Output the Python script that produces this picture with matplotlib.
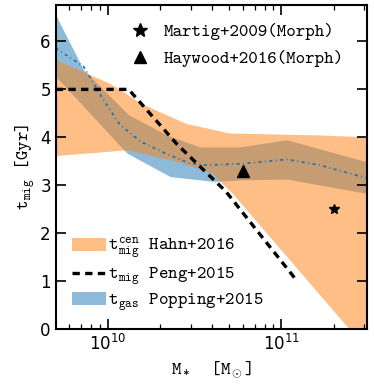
import numpy as np
import matplotlib
matplotlib.use("Agg")
from matplotlib import pyplot as plt
from matplotlib.lines import Line2D
from matplotlib.patches import Patch

plt.rcParams['mathtext.rm'] = 'cmtt10'
plt.rcParams['mathtext.it'] = 'cmtt10'
plt.rcParams['mathtext.tt'] = 'cmtt10'
plt.rcParams['mathtext.bf'] = 'cmtt10'

# Popping+2015 gas depletion time (log M*, Gyr)
pop_x = [9.70, 9.86, 10.12, 10.34, 10.53, 10.76, 11.03, 11.49]
pop_hi = [6.55, 5.41, 4.47, 4.05, 3.80, 3.80, 3.95, 3.49]
pop_lo_x = [9.70, 10.11, 10.36, 10.61, 10.76, 11.03, 11.49]
pop_lo = [5.27, 3.67, 3.18, 3.08, 3.11, 3.13, 2.83]
pop_med_x = [9.70, 9.86, 9.975, 10.07, 10.19, 10.34, 10.47, 10.57, 10.78, 11.03, 11.22, 11.49]
pop_med = [5.86, 5.48, 4.78, 4.26, 3.91, 3.65, 3.46, 3.42, 3.45, 3.54, 3.42, 3.15]

# Hahn+2016 central migration time
hahn_hi_x = [9.70, 10.01, 10.07, 10.19, 10.45, 10.70, 11.22, 11.49]
hahn_hi = [5.62, 5.13, 5.00, 4.71, 4.29, 4.09, 4.05, 4.01]
hahn_lo_x = [9.70, 10.11, 10.40, 10.60, 10.72, 11.39, 11.49]
hahn_lo = [3.62, 3.74, 3.50, 3.25, 2.82, 0.0, -0.42]

# Peng+2015
peng_x = [9.70, 10.12, 10.40, 10.68, 11.086]
peng_t = [5.0, 5.0, 3.85, 2.87, 1.02]

# single measurements
martig = (2.0e11, 2.5)
haywood = (6.0e10, 3.3)

grid = np.linspace(9.70, 11.49, 400)
m = 10**grid

fig = plt.figure(figsize=(3.74, 3.88), dpi=100)
ax = fig.add_axes([0.149, 0.152, 0.831, 0.835])

ax.fill_between(m, np.interp(grid, pop_lo_x, pop_lo), np.interp(grid, pop_x, pop_hi),
                color='tab:blue', alpha=0.5, lw=0)
ax.plot(10**np.array(pop_med_x), pop_med, color='tab:blue', ls=(0, (1.7, 1.9, 0.55, 1.9)), lw=1.3)
ax.fill_between(m, np.interp(grid, hahn_lo_x, hahn_lo), np.interp(grid, hahn_hi_x, hahn_hi),
                color='tab:orange', alpha=0.5, lw=0)
ax.plot(10**np.array(peng_x), peng_t, color='k', ls=(0, (2.2, 1.6)), lw=2.4)
ax.plot(*martig, marker='*', color='k', ms=7, ls='none')
ax.plot(*haywood, marker='^', color='k', ms=8, ls='none')

ax.set_xscale('log')
ax.set_xlim(10**9.70, 10**11.49)
ax.set_ylim(0, 6.76)
ax.set_yticks([0, 1, 2, 3, 4, 5, 6])
ax.tick_params(which='both', direction='in', top=True, right=True, labelsize=12)
ax.tick_params(which='major', length=7, width=1.2)
ax.tick_params(which='minor', length=3.5, width=0.9)
for s in ax.spines.values():
    s.set_linewidth(1.5)

ax.set_xlabel(r'M$_*$  [M$_\odot$]', fontfamily='cmtt10', fontsize=13,
              math_fontfamily='custom', labelpad=4)
ax.set_ylabel(r't$_{\rm mig}$ [Gyr]', fontfamily='cmtt10', fontsize=13,
              math_fontfamily='custom', labelpad=2)

h1 = [Line2D([], [], marker='*', color='k', ls='none', ms=10),
      Line2D([], [], marker='^', color='k', ls='none', ms=9)]
leg1 = ax.legend(h1, ['Martig+2009(Morph)', 'Haywood+2016(Morph)'], loc='upper right',
                 frameon=False, prop={'family': 'cmtt10', 'size': 13},
                 handletextpad=0.3, borderaxespad=0.6, labelspacing=0.55,
                 bbox_to_anchor=(0.985, 1.0))
ax.add_artist(leg1)

h2 = [Patch(color='tab:orange', alpha=0.5, lw=0),
      Line2D([], [], color='k', ls=(0, (2.2, 1.6)), lw=2.4),
      Patch(color='tab:blue', alpha=0.5, lw=0)]
leg2 = ax.legend(h2, [r't$_{\rm mig}^{\rm cen}$ Hahn+2016', r't$_{\rm mig}$ Peng+2015',
                      r't$_{\rm gas}$ Popping+2015'],
                 loc='lower left', frameon=False, prop={'family': 'cmtt10', 'size': 13},
                 handlelength=1.9, handletextpad=0.1, labelspacing=0.2,
                 bbox_to_anchor=(0.0, 0.0))
for t in leg2.get_texts():
    t.set_math_fontfamily('custom')

fig.savefig('out.png', dpi=100)
